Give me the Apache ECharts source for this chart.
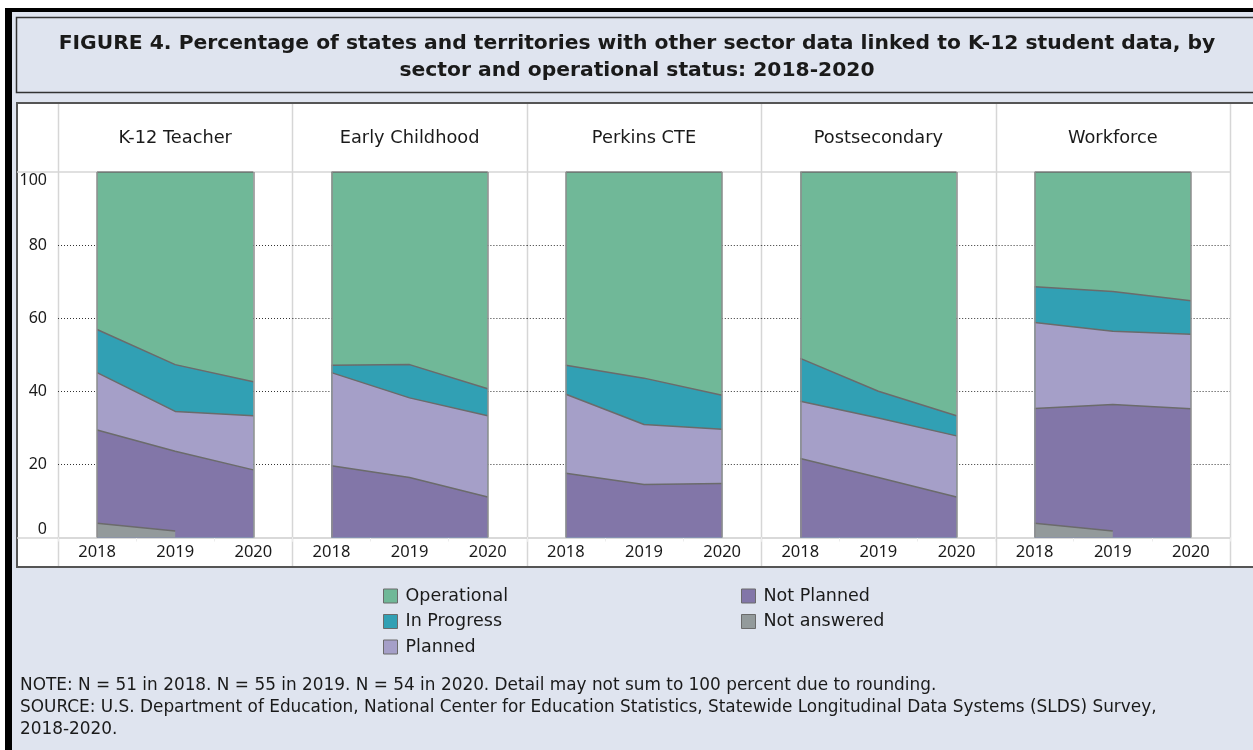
<!DOCTYPE html>
<html lang="en">
<head>
    <meta charset="utf-8">
    <title>Figure 4</title>
    <style>
        html, body { margin: 0; padding: 0; background: #fff; }
    </style>
</head>
<body>
    <div id="main" style="width:1253px;height:750px;"></div>
    <script src="https://cdn.jsdelivr.net/npm/echarts@6/dist/echarts.min.js"></script>
    <script type="text/javascript">
    var myChart = echarts.init(document.getElementById('main'));

    // categories
    var sectors = ['K-12 Teacher', 'Early Childhood', 'Perkins CTE', 'Postsecondary', 'Workforce'];
    var years = ['2018', '2019', '2020'];
    var yTicks = [0, 20, 40, 60, 80, 100];

    // percent of states per status, one row per sector, values for 2018/2019/2020
    var notAnswered = [[3.9, 1.8, null], [null, null, null], [null, null, null], [null, null, null], [3.9, 1.8, null]];
    var notPlanned  = [[25.5, 21.8, 18.5], [19.6, 16.4, 11.1], [17.6, 14.5, 14.8], [21.6, 16.4, 11.1], [31.4, 34.6, 35.2]];
    var planned     = [[15.7, 10.9, 14.8], [25.5, 21.8, 22.2], [21.6, 16.4, 14.8], [15.7, 16.3, 16.7], [23.5, 20.0, 20.4]];
    var inProgress  = [[11.8, 12.8, 9.3], [2.0, 9.1, 7.4], [7.9, 12.7, 9.3], [11.7, 7.3, 5.5], [9.8, 10.9, 9.2]];
    var operational = [[43.1, 52.7, 57.4], [52.9, 52.7, 59.3], [52.9, 56.4, 61.1], [51.0, 60.0, 66.7], [31.4, 32.7, 35.2]];

    // stacking order bottom -> top
    var statusNames = ['Not answered', 'Not Planned', 'Planned', 'In Progress', 'Operational'];
    var statusData = [notAnswered, notPlanned, planned, inProgress, operational];
    var statusColors = ['#939a9b', '#8276a8', '#a59fc8', '#31a0b4', '#70b898'];

    var FONT = '"Noto Sans", Tahoma, sans-serif';
    var TEXTFONT = '"DejaVu Sans", Verdana, sans-serif';
    var panelLeft = 58, panelW = 234.4, plotTop = 172, plotH = 365.5;

    var grids = [], xAxes = [], yAxes = [], series = [], titles = [];

    titles.push({
        text: 'FIGURE 4. Percentage of states and territories with other sector data linked to K-12 student data, by\nsector and operational status: 2018-2020',
        left: 637, top: 30, textAlign: 'center', padding: 0,
        textStyle: { fontFamily: TEXTFONT, fontSize: 20.3, fontWeight: 'bold', color: '#1a1a1a', lineHeight: 27 }
    });
    titles.push({
        text: 'NOTE: N = 51 in 2018. N = 55 in 2019. N = 54 in 2020. Detail may not sum to 100 percent due to rounding.\nSOURCE: U.S. Department of Education, National Center for Education Statistics, Statewide Longitudinal Data Systems (SLDS) Survey,\n2018-2020.',
        left: 20, top: 675, padding: 0,
        textStyle: { fontFamily: TEXTFONT, fontSize: 16.9, fontWeight: 'normal', color: '#1a1a1a', lineHeight: 22 }
    });

    sectors.forEach(function (name, i) {
        var left = panelLeft + i * panelW;
        grids.push({ left: left, top: plotTop, width: panelW, height: plotH });
        titles.push({
            text: name, left: left + panelW / 2, top: 129, textAlign: 'center', padding: 0,
            textStyle: { fontFamily: TEXTFONT, fontSize: 17.8, fontWeight: 'normal', color: '#1a1a1a' }
        });
        xAxes.push({
            type: 'category', gridIndex: i, data: years, boundaryGap: true,
            axisLine: { show: true, lineStyle: { color: '#d6d6d6', width: 1.5 } },
            axisTick: { show: true, length: 4, lineStyle: { color: '#ececec' } },
            axisLabel: { color: '#1a1a1a', fontFamily: FONT, fontSize: 16.5, margin: 6 }
        });
        yAxes.push({
            type: 'value', gridIndex: i, min: yTicks[0], max: yTicks[yTicks.length - 1], interval: yTicks[1] - yTicks[0],
            axisLine: { show: false }, axisTick: { show: false },
            axisLabel: {
                show: i === 0, color: '#1a1a1a', fontFamily: FONT, fontSize: 16, margin: 11,
                verticalAlignMinLabel: 'bottom', verticalAlignMaxLabel: 'top'
            },
            splitLine: { show: true, showMinLine: false, showMaxLine: false, lineStyle: { color: '#333', type: [1, 2], width: 1 } }
        });

        // cumulative tops, drawn top layer first so lower layers overlap it
        var cum = [0, 0, 0];
        var layers = [];
        statusData.forEach(function (arr, k) {
            var row = arr[i];
            var top = row.map(function (v, j) {
                if (v === null) return null;
                cum[j] += v;
                return +cum[j].toFixed(2);
            });
            layers.push(top);
        });
        for (var k = statusNames.length - 1; k >= 0; k--) {
            var s = {
                name: statusNames[k], type: 'line', xAxisIndex: i, yAxisIndex: i,
                data: layers[k], symbol: 'none', z: 10 - k, color: statusColors[k],
                lineStyle: { color: '#6b6b6b', width: 1.5 },
                areaStyle: { color: statusColors[k], opacity: 1 },
                itemStyle: { color: statusColors[k] },
                animation: false, silent: true
            };
            if (k === 0) {
                s.markLine = {
                    silent: true, symbol: ['none', 'none'], z: 20, animation: false,
                    label: { show: false },
                    lineStyle: { color: '#8d8d8d', type: 'solid', width: 1.5 },
                    data: [{ xAxis: years[0] }, { xAxis: years[years.length - 1] }]
                };
            }
            series.push(s);
        }
    });

    // table frame, background, title box
    var graphics = [
        { type: 'rect', z: -20, shape: { x: 5, y: 8, width: 1260, height: 760 }, style: { fill: '#000' } },
        { type: 'rect', z: -19, shape: { x: 12, y: 12, width: 1260, height: 760 }, style: { fill: '#dfe4ef' } },
        { type: 'rect', z: -18, shape: { x: 16.5, y: 17.5, width: 1260, height: 75 }, style: { fill: '#dfe4ef', stroke: '#333', lineWidth: 1.5 } },
        { type: 'rect', z: -18, shape: { x: 17, y: 103, width: 1260, height: 464 }, style: { fill: '#fff', stroke: '#555', lineWidth: 2 } },
        { type: 'line', z: -17, shape: { x1: 17, y1: 172, x2: 1230, y2: 172 }, style: { stroke: '#d6d6d6', lineWidth: 1.5 } },
        { type: 'line', z: -17, shape: { x1: 17, y1: 538, x2: 1230, y2: 538 }, style: { stroke: '#d6d6d6', lineWidth: 1.5 } }
    ];
    for (var p = 0; p <= sectors.length; p++) {
        var x = Math.round(panelLeft + p * panelW) + 0.5;
        graphics.push({ type: 'line', z: -17, shape: { x1: x, y1: 104, x2: x, y2: 566 }, style: { stroke: '#d6d6d6', lineWidth: 1.5 } });
    }

    var legendCommon = {
        orient: 'vertical', top: 587, padding: 0, itemWidth: 14, itemHeight: 14, itemGap: 7.5, icon: 'rect',
        itemStyle: { borderColor: '#6b6b6b', borderWidth: 1 },
        textStyle: { fontFamily: TEXTFONT, fontSize: 17.5, color: '#1a1a1a', padding: [0, 0, 0, 3] },
        selectedMode: false
    };

    var option = {
        backgroundColor: '#fff',
        animation: false,
        title: titles,
        graphic: graphics,
        legend: [
            Object.assign({}, legendCommon, { left: 383, data: ['Operational', 'In Progress', 'Planned'] }),
            Object.assign({}, legendCommon, { left: 741, data: ['Not Planned', 'Not answered'] })
        ],
        grid: grids,
        xAxis: xAxes,
        yAxis: yAxes,
        series: series
    };
    myChart.setOption(option);
    </script>
</body>
</html>
